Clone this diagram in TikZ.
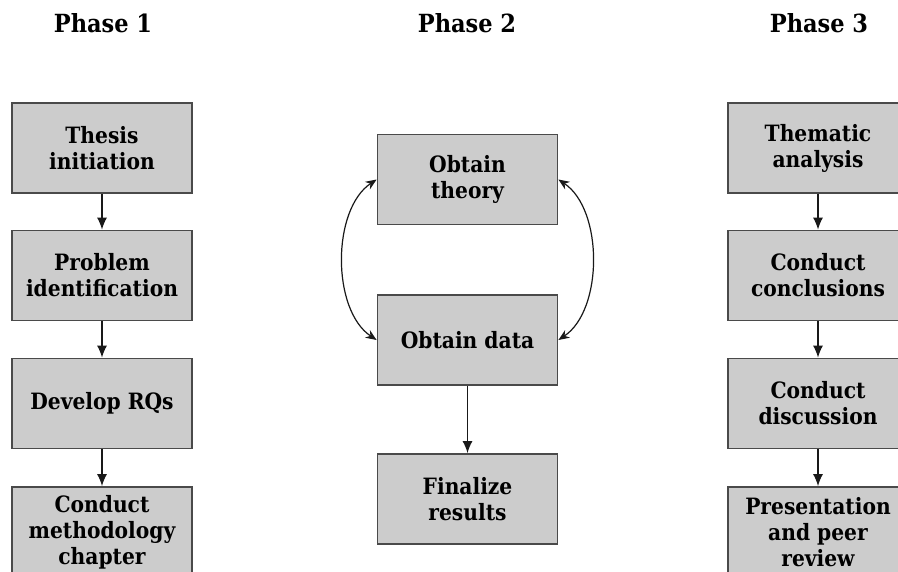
\documentclass[tikz,border=0pt]{standalone}
\usepackage{fontspec}
\setmainfont{DejaVu Serif Condensed}
\usetikzlibrary{arrows.meta}
\definecolor{boxfill}{HTML}{CCCCCC}
\definecolor{boxline}{HTML}{4A4A4A}
\tikzset{
  stepbox/.style={draw=boxline, line width=1.8pt, fill=boxfill, minimum width=180pt, minimum height=90pt, inner sep=0pt, align=center, font=\fontsize{22.5}{26}\selectfont\bfseries},
  phasetitle/.style={anchor=base, font=\fontsize{25}{28}\selectfont\bfseries},
  arr/.style={draw=black!90, line width=1.3pt, -{Latex[length=12pt,width=10pt]}},
  carr/.style={draw=black!90, line width=1.2pt, {Stealth[length=11pt,width=9pt]}-{Stealth[length=11pt,width=9pt]}}
}
\begin{document}
\begin{tikzpicture}[x=1pt,y=-1pt]
\useasboundingbox (0,0) rectangle (898,571);
\clip (0,0) rectangle (898,571);
\fill[white] (0,0) rectangle (898,571);
% titles
\node[phasetitle] (p1) at (103,32) {Phase 1};
\node[phasetitle] (p2) at (467,32) {Phase 2};
\node[phasetitle] (p3) at (819,32) {Phase 3};
% phase 1
\node[stepbox] (a1) at (102,148) {Thesis\\initiation};
\node[stepbox] (a2) at (102,275.5) {Problem\\identification};
\node[stepbox] (a3) at (102,403.5) {Develop RQs};
\node[stepbox] (a4) at (102,532) {Conduct\\methodology\\chapter};
% phase 2
\node[stepbox] (b1) at (467.5,179.5) {Obtain\\theory};
\node[stepbox] (b2) at (467.5,340) {Obtain data};
\node[stepbox] (b3) at (467.5,499) {Finalize\\results};
% phase 3
\node[stepbox] (c1) at (818,148) {Thematic\\analysis};
\node[stepbox] (c2) at (818,275.5) {Conduct\\conclusions};
\node[stepbox] (c3) at (818,403.5) {Conduct\\discussion};
\node[stepbox] (c4) at (818,532) {Presentation\\and peer\\review};
% arrows
\draw[arr] (a1) -- (a2);
\draw[arr] (a2) -- (a3);
\draw[arr] (a3) -- (a4);
\draw[arr] (c1) -- (c2);
\draw[arr] (c2) -- (c3);
\draw[arr] (c3) -- (c4);
\draw[arr] (b2) -- (b3);
\draw[carr] (b1.west) .. controls +(-45,30) and +(-45,-30) .. (b2.west);
\draw[carr] (b1.east) .. controls +(45,30) and +(45,-30) .. (b2.east);
\end{tikzpicture}
\end{document}
